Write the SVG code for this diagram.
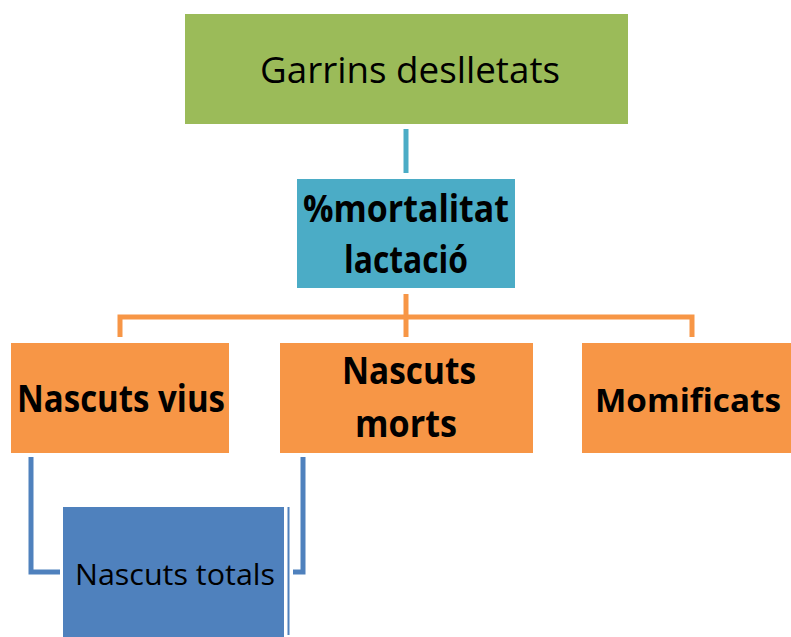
<svg xmlns="http://www.w3.org/2000/svg" width="791" height="637" viewBox="0 0 791 637">
  <style>
    .lbl { font-family: "Open Sans", "Noto Sans", "Liberation Sans", sans-serif; fill: #000; text-anchor: middle; }
    .b { font-weight: bold; }
    .ln { fill: none; stroke-width: 5; stroke-linecap: butt; stroke-linejoin: miter; }
  </style>
  <rect width="791" height="637" fill="#fff"/>

  <g id="connectors">
    <line class="ln" x1="406" y1="129" x2="406" y2="173" stroke="#4BACC6"/>
    <line class="ln" x1="406" y1="294" x2="406" y2="337" stroke="#F79646"/>
    <polyline class="ln" points="120,337 120,317 692,317 692,337" stroke="#F79646"/>
    <polyline class="ln" points="31,457 31,572 60,572" stroke="#4F81BD"/>
    <polyline class="ln" points="303,457 303,572 293,572" stroke="#4F81BD"/>
    <line x1="288.5" y1="507" x2="288.5" y2="635" stroke="#4F81BD" stroke-width="2"/>
  </g>

  <g id="garrins">
    <rect x="185" y="14" width="443" height="110" fill="#9BBB59"/>
    <text class="lbl" x="410" y="83" font-size="37" textLength="300" lengthAdjust="spacingAndGlyphs">Garrins deslletats</text>
  </g>

  <g id="mortalitat">
    <rect x="297" y="179" width="218" height="109" fill="#4BACC6"/>
    <text class="lbl b" x="406" y="222" font-size="37" textLength="206" lengthAdjust="spacingAndGlyphs">%mortalitat</text>
    <text class="lbl b" x="406" y="273" font-size="37" textLength="124" lengthAdjust="spacingAndGlyphs">lactació</text>
  </g>

  <g id="vius">
    <rect x="11" y="343" width="218" height="110" fill="#F79646"/>
    <text class="lbl b" x="121" y="412" font-size="37" textLength="208" lengthAdjust="spacingAndGlyphs">Nascuts vius</text>
  </g>

  <g id="morts">
    <rect x="280" y="343" width="253" height="110" fill="#F79646"/>
    <text class="lbl b" x="409" y="384" font-size="37" textLength="134" lengthAdjust="spacingAndGlyphs">Nascuts</text>
    <text class="lbl b" x="406" y="437" font-size="37" textLength="102" lengthAdjust="spacingAndGlyphs">morts</text>
  </g>

  <g id="momificats">
    <rect x="582" y="343" width="209" height="110" fill="#F79646"/>
    <text class="lbl b" x="688" y="412" font-size="33" textLength="186" lengthAdjust="spacingAndGlyphs">Momificats</text>
  </g>

  <g id="totals">
    <rect x="63" y="507" width="221" height="130" fill="#4F81BD"/>
    <text class="lbl" x="175" y="585" font-size="30" textLength="200" lengthAdjust="spacingAndGlyphs">Nascuts totals</text>
  </g>
</svg>
